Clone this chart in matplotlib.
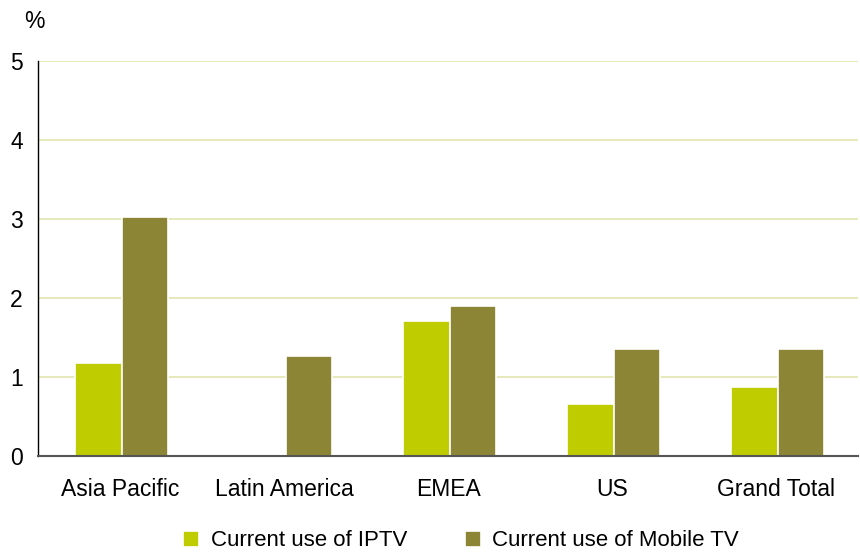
import matplotlib
matplotlib.use("Agg")
import matplotlib.pyplot as plt
import numpy as np

plt.rcParams['font.family'] = ['Liberation Sans', 'DejaVu Sans']

categories = ["Asia Pacific", "Latin America", "EMEA", "US", "Grand Total"]
iptv = [1.18, 0.0, 1.71, 0.66, 0.87]
mobile_tv = [3.02, 1.27, 1.90, 1.35, 1.35]
series_names = ["Current use of IPTV", "Current use of Mobile TV"]
y_ticks = [0, 1, 2, 3, 4, 5]

c_iptv = "#bfcc00"
c_mobile = "#8c8536"
fs = 16.5

fig = plt.figure(figsize=(8.6, 5.52), dpi=100)
ax = fig.add_axes([38/860, 1 - 456/552, 820/860, (456 - 61)/552])

x = np.arange(len(categories))
w = 0.285
ax.bar(x - w/2 + 0.01, iptv, width=w, color=c_iptv, edgecolor="white", linewidth=1.2,
       label=series_names[0], zorder=3)
ax.bar(x + w/2 + 0.01, mobile_tv, width=w, color=c_mobile, edgecolor="white", linewidth=1.2,
       label=series_names[1], zorder=3)

ax.set_xlim(-0.5, len(categories) - 0.5)
ax.set_ylim(0, 5)
ax.set_yticks(y_ticks)
ax.set_xticks(x)
ax.set_xticklabels(categories, fontsize=fs)
ax.tick_params(axis="y", labelsize=fs, length=0, pad=11)
ax.tick_params(axis="x", length=0, pad=16)
ax.yaxis.grid(True, color="#e6e9bb", linewidth=1.4, zorder=0)
ax.set_axisbelow(True)

for s in ["top", "right"]:
    ax.spines[s].set_visible(False)
ax.spines["left"].set_color("black")
ax.spines["left"].set_linewidth(1.0)
ax.spines["bottom"].set_color("#555555")
ax.spines["bottom"].set_linewidth(1.5)
ax.spines["left"].set_zorder(4)
ax.spines["bottom"].set_zorder(4)

fig.text(24/860, 1 - 21/552, "%", fontsize=fs, ha="left", va="center")

leg = fig.legend(loc="center", bbox_to_anchor=(461/860, 1 - 541/552), ncol=2,
                 frameon=False, fontsize=16, handlelength=0.75, handleheight=0.75,
                 handletextpad=0.5, columnspacing=2.6)

fig.savefig("out.png", dpi=100)
